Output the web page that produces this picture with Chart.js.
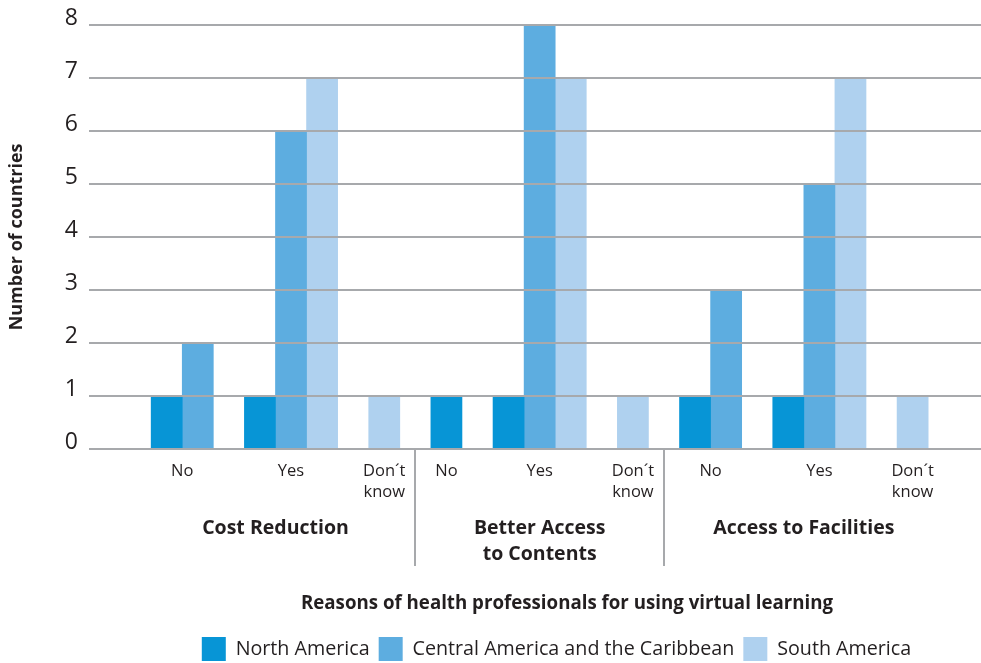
<!DOCTYPE html>
<html><head><meta charset="utf-8">
<script src="https://cdn.jsdelivr.net/npm/chart.js@4/dist/chart.umd.min.js"></script>
<style>html,body{margin:0;padding:0;background:#fff;} canvas{display:block;}</style>
</head><body>
<canvas id="c" width="981" height="663"></canvas>
<script>
// ---- data ----
const groups = [["Cost Reduction"], ["Better Access", "to Contents"], ["Access to Facilities"]];
const answers = [["No"], ["Yes"], ["Don´t", "know"]];
const seriesNames = ["North America", "Central America and the Caribbean", "South America"];
const northAmerica   = [1, 1, 0,  1, 1, 0,  1, 1, 0];
const centralAmerica = [2, 6, 0,  0, 8, 0,  3, 5, 0];
const southAmerica   = [0, 7, 1,  0, 7, 1,  0, 7, 1];
const yTicks = [0, 1, 2, 3, 4, 5, 6, 7, 8];
const xTitle = "Reasons of health professionals for using virtual learning";
const yTitle = "Number of countries";

// ---- styles ----
const colors = ["#0795d6", "#5dade0", "#afd1ef"];
const FONT = "'Open Sans', 'Noto Sans', sans-serif";
const TEXT = "#231f20";
const GRID = "#a7a9ac";

// ---- build slot table: bars packed, one empty slot between answer categories ----
const seriesValues = [northAmerica, centralAmerica, southAmerica];
const points = seriesValues.map(() => []);
const catSpans = [];
const groupSpans = [];
let k = 0;
groups.forEach((g, gi) => {
  const gFirst = k;
  answers.forEach((a, ai) => {
    const ci = gi * answers.length + ai;
    const first = k;
    seriesValues.forEach((vals, si) => {
      if (vals[ci] > 0) { points[si].push({ x: k, y: vals[ci] }); k++; }
    });
    catSpans.push({ first, last: k - 1, label: a });
    k++;
  });
  groupSpans.push({ first: gFirst, last: k - 2, label: g, sep: k - 1 });
});

const labelsPlugin = {
  id: 'catLabels',
  afterLayout(chart) {
    const lg = chart.legend;
    if (lg) { lg.left += 66; lg.right += 66; lg.top += 8; lg.bottom += 8; }
  },
  afterDraw(chart) {
    const ctx = chart.ctx, xs = chart.scales.x, b = chart.chartArea.bottom;
    ctx.save();
    ctx.fillStyle = TEXT;
    ctx.textAlign = 'center';
    ctx.textBaseline = 'middle';
    ctx.font = "16.5px " + FONT;
    catSpans.forEach(c => {
      const cx = (xs.getPixelForValue(c.first) + xs.getPixelForValue(c.last)) / 2;
      c.label.forEach((t, i) => ctx.fillText(t, cx, b + 22.5 + i * 21));
    });
    ctx.font = "bold 19.5px " + FONT;
    groupSpans.forEach(g => {
      const cx = (xs.getPixelForValue(g.first - 0.5) + xs.getPixelForValue(g.last + 0.5)) / 2;
      g.label.forEach((t, i) => ctx.fillText(t, cx, b + 79 + i * 26));
    });
    ctx.strokeStyle = GRID;
    ctx.lineWidth = 2;
    groupSpans.slice(0, -1).forEach(g => {
      const x = Math.round(xs.getPixelForValue(g.sep));
      ctx.beginPath(); ctx.moveTo(x, b); ctx.lineTo(x, b + 117); ctx.stroke();
    });
    ctx.font = "bold 18.7px " + FONT;
    ctx.fillText(xTitle, (chart.chartArea.left + chart.chartArea.right) / 2 + 32, b + 155);
    ctx.restore();
  }
};

new Chart(document.getElementById('c'), {
  type: 'bar',
  data: {
    datasets: seriesNames.map((n, si) => ({
      label: n,
      data: points[si],
      backgroundColor: colors[si],
      borderWidth: 0,
      grouped: false,
      barPercentage: 1,
      categoryPercentage: 1
    }))
  },
  options: {
    responsive: false,
    animation: false,
    layout: { padding: { top: 24, right: 0, bottom: 0, left: 0 } },
    plugins: {
      tooltip: { enabled: false },
      legend: {
        position: 'bottom',
        labels: {
          boxWidth: 24, boxHeight: 24, padding: 9,
          color: TEXT, font: { family: FONT, size: 19.7 }
        }
      }
    },
    scales: {
      x: {
        type: 'linear',
        bounds: 'data',
        offset: false,
        min: -2.5, max: 26.2,
        afterBuildTicks(s) { s.ticks = [{ value: s.min }, { value: s.max }]; },
        ticks: { display: false },
        grid: { display: false },
        border: { display: false },
        afterFit(s) { s.height = 663 - 34 - 9 - 449 + 24 - 24; }
      },
      y: {
        min: 0, max: 8,
        afterBuildTicks(s) { s.ticks = yTicks.map(v => ({ value: v })); },
        ticks: {
          padding: 11, labelOffset: -6.5, color: TEXT,
          font: { family: FONT, size: 23 }
        },
        grid: { color: GRID, lineWidth: 2, drawTicks: false, z: 1 },
        border: { display: false },
        title: {
          display: true, text: yTitle, color: TEXT,
          font: { family: FONT, size: 18, weight: 'bold' },
          padding: { top: 6, bottom: 0 }
        },
        afterFit(s) { s.width = 89; }
      }
    }
  },
  plugins: [labelsPlugin]
});
</script>
</body></html>
